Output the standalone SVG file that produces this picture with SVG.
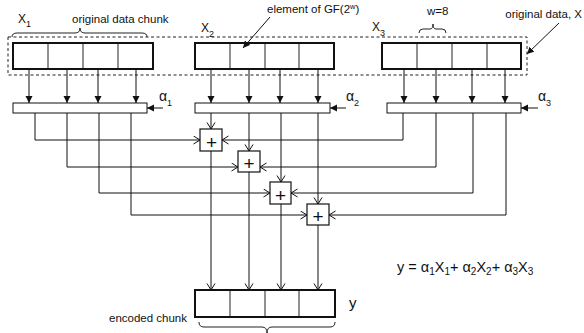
<svg xmlns="http://www.w3.org/2000/svg" width="584" height="333" viewBox="0 0 584 333">
<style>
text{font-family:"Liberation Sans",Arial,sans-serif;fill:#111}
.lbl{font-size:11.5px}
.chunk{fill:#fff;stroke:#111;stroke-width:2}
.div{stroke:#222;stroke-width:1}
.bar{fill:#fff;stroke:#111;stroke-width:1}
.pbox{fill:#fff;stroke:#111;stroke-width:1.2}
.plus{font-size:19px;text-anchor:middle}
.wire{fill:none;stroke:#111;stroke-width:1}
.brace{fill:none;stroke:#222;stroke-width:1}
.xl{font-size:12px}
.al{font-size:14px}
</style>
<defs>
<marker id="fa" markerUnits="userSpaceOnUse" markerWidth="8" markerHeight="8" refX="7" refY="3.5" orient="auto">
<path d="M0,0 L7,3.5 L0,7 z" fill="#111"/>
</marker>
<marker id="oa" markerUnits="userSpaceOnUse" markerWidth="9" markerHeight="10" refX="7" refY="4.5" orient="auto">
<path d="M0.5,0.5 L7,4.5 L0.5,8.5" fill="none" stroke="#111" stroke-width="1"/>
</marker>
</defs>
<rect width="584" height="333" fill="#fff"/>

<!-- original data dashed boundary -->
<g id="original-data">
<rect x="8" y="37" width="519" height="38" fill="none" stroke="#222" stroke-width="1" stroke-dasharray="3,2.5"/>
<text class="lbl" x="582" y="18" text-anchor="end">original data, X</text>
</g>

<g id="x1">
<rect class="chunk" x="13" y="43" width="140" height="26"/>
<line class="div" x1="48" y1="44" x2="48" y2="68"/>
<line class="div" x1="83" y1="44" x2="83" y2="68"/>
<line class="div" x1="118" y1="44" x2="118" y2="68"/>
<text class="xl" x="18" y="23">X<tspan font-size="9" dy="4">1</tspan></text>
<path class="brace" d="M12,37 Q12,33 17,33 L75,33 Q80,33 80,28 Q80,33 85,33 L142,33 Q147,33 147,37"/>
<text class="lbl" x="72" y="23">original data chunk</text>
</g>

<g id="x2">
<rect class="chunk" x="195" y="43" width="139" height="26"/>
<line class="div" x1="230" y1="44" x2="230" y2="68"/>
<line class="div" x1="265" y1="44" x2="265" y2="68"/>
<line class="div" x1="299" y1="44" x2="299" y2="68"/>
<text class="xl" x="201" y="32">X<tspan font-size="9" dy="4.5">2</tspan></text>
<text class="lbl" x="267" y="13">element of GF(2<tspan font-size="7.5" dy="-4">w</tspan><tspan dy="4">)</tspan></text>
</g>

<g id="x3">
<rect class="chunk" x="382" y="43" width="139" height="26"/>
<line class="div" x1="417" y1="44" x2="417" y2="68"/>
<line class="div" x1="452" y1="44" x2="452" y2="68"/>
<line class="div" x1="487" y1="44" x2="487" y2="68"/>
<text class="xl" x="372" y="31">X<tspan font-size="9" dy="4.5">3</tspan></text>
<text class="lbl" x="427" y="15">w=8</text>
<path class="brace" d="M419,33 Q419,29 423,29 L430,29 Q433,29 433,24 Q433,29 436,29 L442,29 Q446,29 446,33"/>
</g>

<g id="alpha1">
<rect class="bar" x="13" y="103" width="134" height="10"/>
<text class="al" x="159" y="101">α<tspan font-size="9" dy="5">1</tspan></text>
</g>
<g id="alpha2">
<rect class="bar" x="195" y="103" width="135" height="10"/>
<text class="al" x="346" y="101">α<tspan font-size="9" dy="5">2</tspan></text>
</g>
<g id="alpha3">
<rect class="bar" x="387" y="103" width="134" height="10"/>
<text class="al" x="538" y="101">α<tspan font-size="9" dy="5">3</tspan></text>
</g>

<g id="add1"><rect class="pbox" x="200" y="129" width="22" height="22"/><text class="plus" x="211.5" y="148.5">+</text></g>
<g id="add2"><rect class="pbox" x="238" y="151" width="22" height="21"/><text class="plus" x="249" y="170">+</text></g>
<g id="add3"><rect class="pbox" x="270" y="182" width="21" height="22"/><text class="plus" x="280.5" y="201.5">+</text></g>
<g id="add4"><rect class="pbox" x="307" y="204" width="22" height="21"/><text class="plus" x="318" y="223">+</text></g>

<g id="y">
<rect class="chunk" x="195" y="290" width="140" height="27"/>
<line class="div" x1="230" y1="291" x2="230" y2="316"/>
<line class="div" x1="265" y1="291" x2="265" y2="316"/>
<line class="div" x1="299" y1="291" x2="299" y2="316"/>
<text x="349" y="308" font-size="15">y</text>
<text class="lbl" x="109" y="322">encoded chunk</text>
<path class="brace" d="M199,322 Q199,327 204,327 L262,327 Q267,327 267,333 Q267,327 272,327 L330,327 Q335,327 335,322"/>
</g>

<g id="formula">
<text x="397" y="272" font-size="14.5">y = α<tspan font-size="10" dy="3">1</tspan><tspan dy="-3">X</tspan><tspan font-size="10" dy="3">1</tspan><tspan dy="-3">+ α</tspan><tspan font-size="10" dy="3">2</tspan><tspan dy="-3">X</tspan><tspan font-size="10" dy="3">2</tspan><tspan dy="-3">+ α</tspan><tspan font-size="10" dy="3">3</tspan><tspan dy="-3">X</tspan><tspan font-size="10" dy="3">3</tspan></text>
</g>

<g id="connectors">
<!-- label pointers -->
<line class="wire" x1="270" y1="17" x2="243" y2="48" marker-end="url(#fa)"/>
<line class="wire" x1="559" y1="23" x2="527" y2="54" marker-end="url(#fa)"/>
<!-- data into multiplier bars -->
<line class="wire" x1="29" y1="69" x2="29" y2="103" marker-end="url(#fa)"/>
<line class="wire" x1="67" y1="69" x2="67" y2="103" marker-end="url(#fa)"/>
<line class="wire" x1="98" y1="69" x2="98" y2="103" marker-end="url(#fa)"/>
<line class="wire" x1="136" y1="69" x2="136" y2="103" marker-end="url(#fa)"/>
<line class="wire" x1="211" y1="69" x2="211" y2="103" marker-end="url(#fa)"/>
<line class="wire" x1="249" y1="69" x2="249" y2="103" marker-end="url(#fa)"/>
<line class="wire" x1="280" y1="69" x2="280" y2="103" marker-end="url(#fa)"/>
<line class="wire" x1="318" y1="69" x2="318" y2="103" marker-end="url(#fa)"/>
<line class="wire" x1="404" y1="69" x2="404" y2="103" marker-end="url(#fa)"/>
<line class="wire" x1="436" y1="69" x2="436" y2="103" marker-end="url(#fa)"/>
<line class="wire" x1="472" y1="69" x2="472" y2="103" marker-end="url(#fa)"/>
<line class="wire" x1="505" y1="69" x2="505" y2="103" marker-end="url(#fa)"/>
<!-- alpha inputs -->
<line class="wire" x1="163" y1="108" x2="147" y2="108" marker-end="url(#fa)"/>
<line class="wire" x1="346" y1="108" x2="330" y2="108" marker-end="url(#fa)"/>
<line class="wire" x1="538" y1="108" x2="521" y2="108" marker-end="url(#fa)"/>
<!-- alpha2 outputs down -->
<line class="wire" x1="211" y1="113" x2="211" y2="129" marker-end="url(#oa)"/>
<line class="wire" x1="249" y1="113" x2="249" y2="151" marker-end="url(#oa)"/>
<line class="wire" x1="281" y1="113" x2="281" y2="182" marker-end="url(#oa)"/>
<line class="wire" x1="318" y1="113" x2="318" y2="204" marker-end="url(#oa)"/>
<!-- alpha1 outputs -->
<path class="wire" d="M35,113 V140 H200" marker-end="url(#oa)"/>
<path class="wire" d="M67,113 V167 H238" marker-end="url(#oa)"/>
<path class="wire" d="M99,113 V193 H270" marker-end="url(#oa)"/>
<path class="wire" d="M131,113 V215 H307" marker-end="url(#oa)"/>
<!-- alpha3 outputs -->
<path class="wire" d="M403,113 V140 H222" marker-end="url(#oa)"/>
<path class="wire" d="M436,113 V167 H260" marker-end="url(#oa)"/>
<path class="wire" d="M473,113 V193 H291" marker-end="url(#oa)"/>
<path class="wire" d="M506,113 V215 H329" marker-end="url(#oa)"/>
<!-- sums into encoded chunk -->
<line class="wire" x1="211" y1="151" x2="211" y2="290" marker-end="url(#oa)"/>
<line class="wire" x1="249" y1="172" x2="249" y2="290" marker-end="url(#oa)"/>
<line class="wire" x1="281" y1="204" x2="281" y2="290" marker-end="url(#oa)"/>
<line class="wire" x1="318" y1="225" x2="318" y2="290" marker-end="url(#oa)"/>
</g>
</svg>
